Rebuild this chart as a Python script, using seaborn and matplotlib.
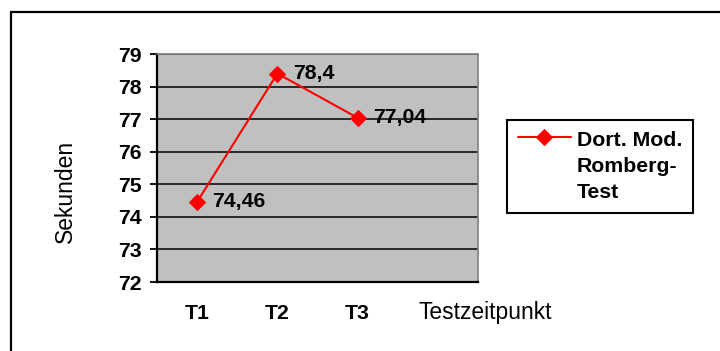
import numpy as np
import pandas as pd
import matplotlib
matplotlib.use("Agg")
import matplotlib.pyplot as plt
import seaborn as sns
from matplotlib.patches import Rectangle
from matplotlib.legend_handler import HandlerLine2D

# data
zeitpunkte = ["T1", "T2", "T3"]
sekunden = [74.46, 78.4, 77.04]
serie = "Dort. Mod.\nRomberg-\nTest"
y_ticks = [72, 73, 74, 75, 76, 77, 78, 79]

sns.set_style("white")
plt.rcParams["font.family"] = ["Liberation Sans", "DejaVu Sans"]
plt.rcParams.update({"text.color": "black", "axes.labelcolor": "black",
                     "xtick.color": "black", "ytick.color": "black"})

BOLD = 15.3

df = pd.DataFrame({"Testzeitpunkt": zeitpunkte, "Sekunden": sekunden})

fig = plt.figure(figsize=(7.2, 3.51), dpi=100)
ax = fig.add_axes([157 / 720, 69 / 351, 321 / 720, 228 / 351])
ax.set_facecolor("#c0c0c0")

sns.lineplot(data=df, x="Testzeitpunkt", y="Sekunden", sort=False,
             color="#ff0000", linewidth=1.5, marker="D", markersize=8,
             markeredgecolor="#ff0000", label=serie, ax=ax)

# value labels, German decimal comma
for i, v in enumerate(sekunden):
    ax.annotate(str(v).replace(".", ","), xy=(i, v), xytext=(11, 0),
                textcoords="offset points", ha="left", va="center",
                fontsize=BOLD, fontweight="bold", zorder=5)

ax.set_ylim(y_ticks[0], y_ticks[-1])
ax.set_yticks(y_ticks)
ax.set_yticklabels([str(t) for t in y_ticks], fontsize=BOLD, fontweight="bold")
ax.yaxis.grid(True, color="black", linewidth=1.1)
ax.set_axisbelow(True)

ax.set_xlim(-0.5, 3.5)
ax.set_xticks(range(len(zeitpunkte)))
ax.set_xticklabels(zeitpunkte, fontsize=BOLD, fontweight="bold")
ax.set_xticks(np.arange(-0.5, 3.6, 1.0), minor=True)
ax.tick_params(axis="x", which="major", length=0, pad=15.5)
ax.tick_params(axis="x", which="minor", length=5, width=1.3, direction="out",
               color="black")
ax.tick_params(axis="y", length=5, width=1.3, direction="out", pad=6,
               color="black", left=True)

for side in ["left", "bottom"]:
    ax.spines[side].set_color("black")
    ax.spines[side].set_linewidth(1.6)
for side in ["top", "right"]:
    ax.spines[side].set_color("#808080")
    ax.spines[side].set_linewidth(1.2)

ax.set_xlabel("Testzeitpunkt", fontsize=16.5)
ax.xaxis.set_label_coords(1.022, -0.132)
ax.xaxis.label.set_va("center")
ax.set_ylabel("Sekunden", fontsize=16.5)
ax.yaxis.set_label_coords(-0.285, 0.397)
ax.yaxis.label.set_va("center")
ax.yaxis.label.set_ha("center")


class TopLineHandler(HandlerLine2D):
    # put the legend line next to the first text row
    def create_artists(self, legend, orig_handle, xdescent, ydescent,
                       width, height, fontsize, trans):
        return super().create_artists(legend, orig_handle, xdescent,
                                      ydescent - 42, width, height,
                                      fontsize, trans)


handles, labels = ax.get_legend_handles_labels()
leg = ax.legend(handles, labels, loc="upper left",
                bbox_to_anchor=(507 / 720, 1 - 120 / 351),
                bbox_transform=fig.transFigure, borderaxespad=0,
                prop={"size": BOLD, "weight": "bold"},
                handlelength=2.5, handletextpad=0.3, borderpad=0.5,
                fancybox=False, framealpha=1, edgecolor="black",
                handler_map={handles[0]: TopLineHandler()})
leg.get_frame().set_linewidth(1.5)
for t in leg.get_texts():
    t.set_linespacing(1.48)

# outer chart frame
fig.patches.append(Rectangle((11 / 720, -0.5), 2, 1.5 - 11.5 / 351,
                             transform=fig.transFigure, fill=False,
                             edgecolor="black", linewidth=1.6))

fig.savefig("out.png", dpi=100)
